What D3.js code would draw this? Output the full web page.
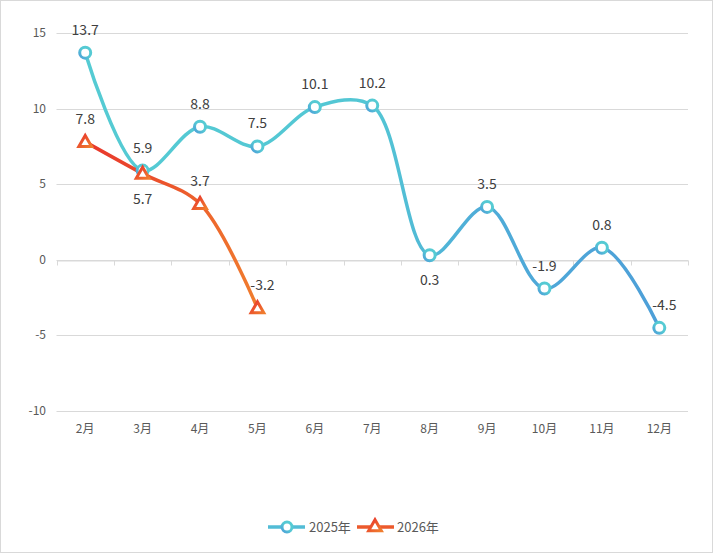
<!DOCTYPE html>
<html>
<head>
<meta charset="utf-8">
<script src="https://cdn.jsdelivr.net/npm/d3@7"></script>
<style>
body { margin: 0; background: #fff; }
text { font-family: "Noto Sans CJK SC", "Noto Sans", sans-serif; }
</style>
</head>
<body>
<div id="chart"></div>
<script>
var months = ["2月", "3月", "4月", "5月", "6月", "7月", "8月", "9月", "10月", "11月", "12月"]
var values2025 = [13.7, 5.9, 8.8, 7.5, 10.1, 10.2, 0.3, 3.5, -1.9, 0.8, -4.5]
var values2026 = [7.8, 5.7, 3.7, -3.2]
var below2025 = [false, false, false, false, false, false, true, false, false, false, false]
var below2026 = [false, true, false, false]
var yTicks = [-10, -5, 0, 5, 10, 15]
var seriesNames = ["2025年", "2026年"]

var width = 713
var height = 554
var plotLeft = 56.5, plotRight = 688, plotTop = 33, plotBottom = 411

var svg = d3.select("#chart").append("svg")
	.attr("width", width)
	.attr("height", height)

// outer frame
svg.append("rect")
	.attr("x", 0.5).attr("y", 0.5)
	.attr("width", width - 1).attr("height", height - 2)
	.attr("fill", "#fff")
	.attr("stroke", "#d9d9d9")

var x = d3.scaleBand().domain(months).range([plotLeft, plotRight])
var y = d3.scaleLinear().domain([-10, 15]).range([plotBottom, plotTop])
var cx = function(m) { return x(m) + x.bandwidth() / 2 }

var defs = svg.append("defs")
function grad(id, x1, x2, stops, units) {
	var g = defs.append("linearGradient").attr("id", id)
	if (units) {
		g.attr("gradientUnits", "userSpaceOnUse").attr("x1", x1).attr("x2", x2).attr("y1", 0).attr("y2", 0)
	} else {
		g.attr("x1", x1).attr("x2", x2).attr("y1", "0").attr("y2", "1")
	}
	stops.forEach(function(s) {
		g.append("stop").attr("offset", s[0]).attr("stop-color", s[1])
	})
}
grad("g25", cx("2月"), cx("12月"), [[0, "#55cbd3"], [0.5, "#53c6d4"], [0.68, "#4fadd8"], [1, "#4d9fd8"]], true)
grad("g26", cx("2月"), cx("5月"), [[0, "#e8352c"], [0.55, "#ec5a2c"], [1, "#f07d2e"]], true)
grad("m25", "1", "0", [[0, "#56ccd3"], [0.5, "#55c8d4"], [1, "#4d9fd8"]], false)
grad("m26", "0", "1", [[0, "#e8352c"], [1, "#f07d2e"]], false)

// gridlines
svg.selectAll(".grid").data(yTicks).enter().append("line")
	.attr("x1", plotLeft).attr("x2", plotRight)
	.attr("y1", function(d) { return Math.round(y(d)) + 0.5 })
	.attr("y2", function(d) { return Math.round(y(d)) + 0.5 })
	.attr("stroke", "#d9d9d9")
	.attr("stroke-width", 1)

svg.selectAll(".ylab").data(yTicks).enter().append("text")
	.attr("x", 46).attr("y", function(d) { return y(d) + 4 })
	.attr("text-anchor", "end")
	.attr("font-size", 12)
	.attr("fill", "#595959")
	.text(function(d) { return d })

// category axis on zero line
var xAxis = svg.append("g")
	.attr("transform", "translate(0," + (Math.round(y(0)) + 0.5) + ")")
	.call(d3.axisBottom(x).tickSize(0).tickFormat(""))
xAxis.select(".domain").attr("stroke", "#d9d9d9")
var bounds = months.map(function(m) { return x(m) }).concat([plotRight])
xAxis.selectAll(".sep").data(bounds).enter().append("line")
	.attr("x1", function(d) { return Math.round(d) + 0.5 })
	.attr("x2", function(d) { return Math.round(d) + 0.5 })
	.attr("y1", 0).attr("y2", 5)
	.attr("stroke", "#d9d9d9")

svg.selectAll(".xlab").data(months).enter().append("text")
	.attr("x", cx).attr("y", 433)
	.attr("text-anchor", "middle")
	.attr("font-size", 12)
	.attr("fill", "#595959")
	.text(function(d) { return d })

var line = d3.line()
	.x(function(d) { return cx(d.m) })
	.y(function(d) { return y(d.v) })
	.curve(d3.curveCatmullRom.alpha(0.5))

var d25 = values2025.map(function(v, i) { return { m: months[i], v: v, below: below2025[i] } })
var d26 = values2026.map(function(v, i) { return { m: months[i], v: v, below: below2026[i] } })

svg.append("path").datum(d25)
	.attr("d", line)
	.attr("fill", "none")
	.attr("stroke", "url(#g25)")
	.attr("stroke-width", 3.5)

svg.append("path").datum(d26)
	.attr("d", line)
	.attr("fill", "none")
	.attr("stroke", "url(#g26)")
	.attr("stroke-width", 3.5)

var tri = d3.symbol().type(d3.symbolTriangle).size(70)

svg.selectAll(".c25").data(d25).enter().append("circle")
	.attr("cx", function(d) { return cx(d.m) })
	.attr("cy", function(d) { return y(d.v) })
	.attr("r", 5.5)
	.attr("fill", "#fff")
	.attr("stroke", "url(#m25)")
	.attr("stroke-width", 3)

svg.selectAll(".t26").data(d26).enter().append("path")
	.attr("d", tri)
	.attr("transform", function(d) { return "translate(" + cx(d.m) + "," + (y(d.v) + 1) + ")" })
	.attr("fill", "#fff")
	.attr("stroke", "url(#m26)")
	.attr("stroke-width", 3)
	.attr("stroke-linejoin", "miter")

function labels(data) {
	svg.selectAll(null).data(data).enter().append("text")
		.attr("x", function(d) { return cx(d.m) + (d.v < -3 ? 5 : 0) })
		.attr("y", function(d) { return y(d.v) + (d.below ? 30 : -18) })
		.attr("text-anchor", "middle")
		.attr("font-size", 14)
		.attr("fill", "#404040")
		.text(function(d) { return d.v })
}
labels(d25)
labels(d26)

// legend
var lg = svg.append("g").attr("transform", "translate(0,527)")
lg.append("line").attr("x1", 268).attr("x2", 305).attr("y1", 0).attr("y2", 0)
	.attr("stroke", "#52bcd6").attr("stroke-width", 3.5)
lg.append("circle").attr("cx", 287).attr("cy", 0).attr("r", 5)
	.attr("fill", "#fff").attr("stroke", "url(#m25)").attr("stroke-width", 3)
lg.append("text").attr("x", 309).attr("y", 5).attr("font-size", 13).attr("fill", "#595959").text(seriesNames[0])
lg.append("line").attr("x1", 357).attr("x2", 394).attr("y1", 0).attr("y2", 0)
	.attr("stroke", "#ec5a2c").attr("stroke-width", 3.5)
lg.append("path").attr("d", tri).attr("transform", "translate(375,0)")
	.attr("fill", "#fff").attr("stroke", "url(#m26)").attr("stroke-width", 3)
lg.append("text").attr("x", 397).attr("y", 5).attr("font-size", 13).attr("fill", "#595959").text(seriesNames[1])
</script>
</body>
</html>
